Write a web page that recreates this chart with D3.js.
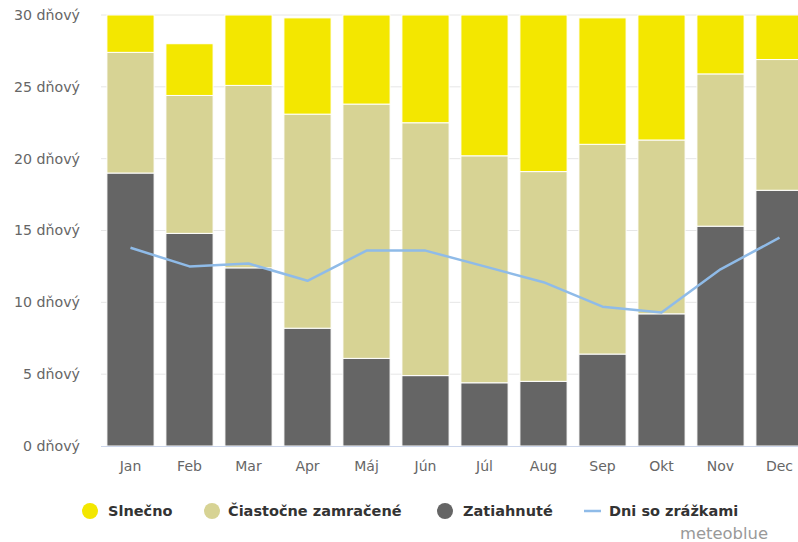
<!DOCTYPE html>
<html>
<head>
<meta charset="utf-8">
<script src="https://cdn.jsdelivr.net/npm/d3@7"></script>
<style>
    body { margin: 0; background: #fff; }
    svg { display: block; font-family: "DejaVu Sans", sans-serif; }
</style>
</head>
<body>
<div id="container"></div>
<script>
const months = ["Jan", "Feb", "Mar", "Apr", "Máj", "Jún", "Júl", "Aug", "Sep", "Okt", "Nov", "Dec"]
const overcast = [19.0, 14.8, 12.4, 8.2, 6.1, 4.9, 4.4, 4.5, 6.4, 9.2, 15.3, 17.8]
const partly = [8.4, 9.6, 12.7, 14.9, 17.7, 17.6, 15.8, 14.6, 14.6, 12.1, 10.6, 9.1]
const sunny = [3.6, 3.6, 5.9, 6.7, 7.2, 7.5, 10.8, 11.9, 8.8, 9.7, 4.1, 4.1]
const precip = [13.8, 12.5, 12.7, 11.5, 13.6, 13.6, 12.5, 11.4, 9.7, 9.3, 12.3, 14.5]
const yTicks = [0, 5, 10, 15, 20, 25, 30]

const width = 798
const height = 542
const colors = { sunny: "#f3e700", partly: "#d7d394", overcast: "#656565", precip: "#8fbbe8" }

const svg = d3.select("#container").append("svg")
    .attr("width", width)
    .attr("height", height)

const x = d3.scaleBand().domain(months).range([101, 809]).paddingInner(0.2).paddingOuter(0.1)
const y = d3.scaleLinear().domain([0, 30]).range([446, 15]).clamp(true)

// grid
svg.append("g").selectAll("line").data(yTicks.filter((t) => t > 0)).join("line")
    .attr("x1", 101).attr("x2", width)
    .attr("y1", (d) => y(d)).attr("y2", (d) => y(d))
    .attr("stroke", "#e6e6e6")

// y labels
svg.append("g").selectAll("text").data(yTicks).join("text")
    .attr("x", 80)
    .attr("y", (d) => y(d))
    .attr("dy", "0.35em")
    .attr("text-anchor", "end")
    .attr("fill", "#666")
    .style("font-size", "14.2px")
    .text((d) => `${d} dňový`)

// stacked bars
const table = months.map((m, i) => ({ month: m, overcast: overcast[i], partly: partly[i], sunny: sunny[i] }))
const stack = d3.stack().keys(["overcast", "partly", "sunny"])(table)

svg.append("g").selectAll("g").data(stack).join("g")
    .attr("fill", (s) => colors[s.key])
    .selectAll("rect").data((s) => s).join("rect")
    .attr("x", (d) => x(d.data.month))
    .attr("width", x.bandwidth())
    .attr("y", (d) => y(d[1]))
    .attr("height", (d) => y(d[0]) - y(d[1]))
    .attr("stroke", "#fff")
    .attr("stroke-width", 1)

// x axis line
svg.append("line")
    .attr("x1", 101).attr("x2", width)
    .attr("y1", 446.5).attr("y2", 446.5)
    .attr("stroke", "#ccd6eb")

svg.append("g").selectAll("text").data(months).join("text")
    .attr("x", (d) => x(d) + x.bandwidth() / 2)
    .attr("y", 471)
    .attr("text-anchor", "middle")
    .attr("fill", "#666")
    .style("font-size", "14px")
    .text((d) => d)

// precipitation line
const line = d3.line()
    .x((d, i) => x(months[i]) + x.bandwidth() / 2)
    .y((d) => y(d))
svg.append("path")
    .datum(precip)
    .attr("d", line)
    .attr("fill", "none")
    .attr("stroke", colors.precip)
    .attr("stroke-width", 2.5)
    .attr("stroke-linejoin", "round")

// legend
const legendY = 511
const legend = svg.append("g").style("font-size", "14.5px").style("font-weight", "bold")
const items = [
    { label: "Slnečno", color: colors.sunny, cx: 90, tx: 108 },
    { label: "Čiastočne zamračené", color: colors.partly, cx: 212, tx: 228 },
    { label: "Zatiahnuté", color: colors.overcast, cx: 445, tx: 463 },
]
items.forEach((it) => {
    legend.append("circle").attr("cx", it.cx).attr("cy", legendY).attr("r", 8).attr("fill", it.color)
    legend.append("text").attr("x", it.tx).attr("y", legendY).attr("dy", "0.35em")
        .attr("fill", "#333").text(it.label)
})
legend.append("line")
    .attr("x1", 584).attr("x2", 601)
    .attr("y1", legendY).attr("y2", legendY)
    .attr("stroke", colors.precip).attr("stroke-width", 2.5)
legend.append("text").attr("x", 609).attr("y", legendY).attr("dy", "0.35em")
    .attr("fill", "#333").text("Dni so zrážkami")

svg.append("text")
    .attr("x", 768)
    .attr("y", 533)
    .attr("dy", "0.35em")
    .attr("text-anchor", "end")
    .attr("fill", "#999")
    .style("font-size", "16.4px")
    .text("meteoblue")
</script>
</body>
</html>
